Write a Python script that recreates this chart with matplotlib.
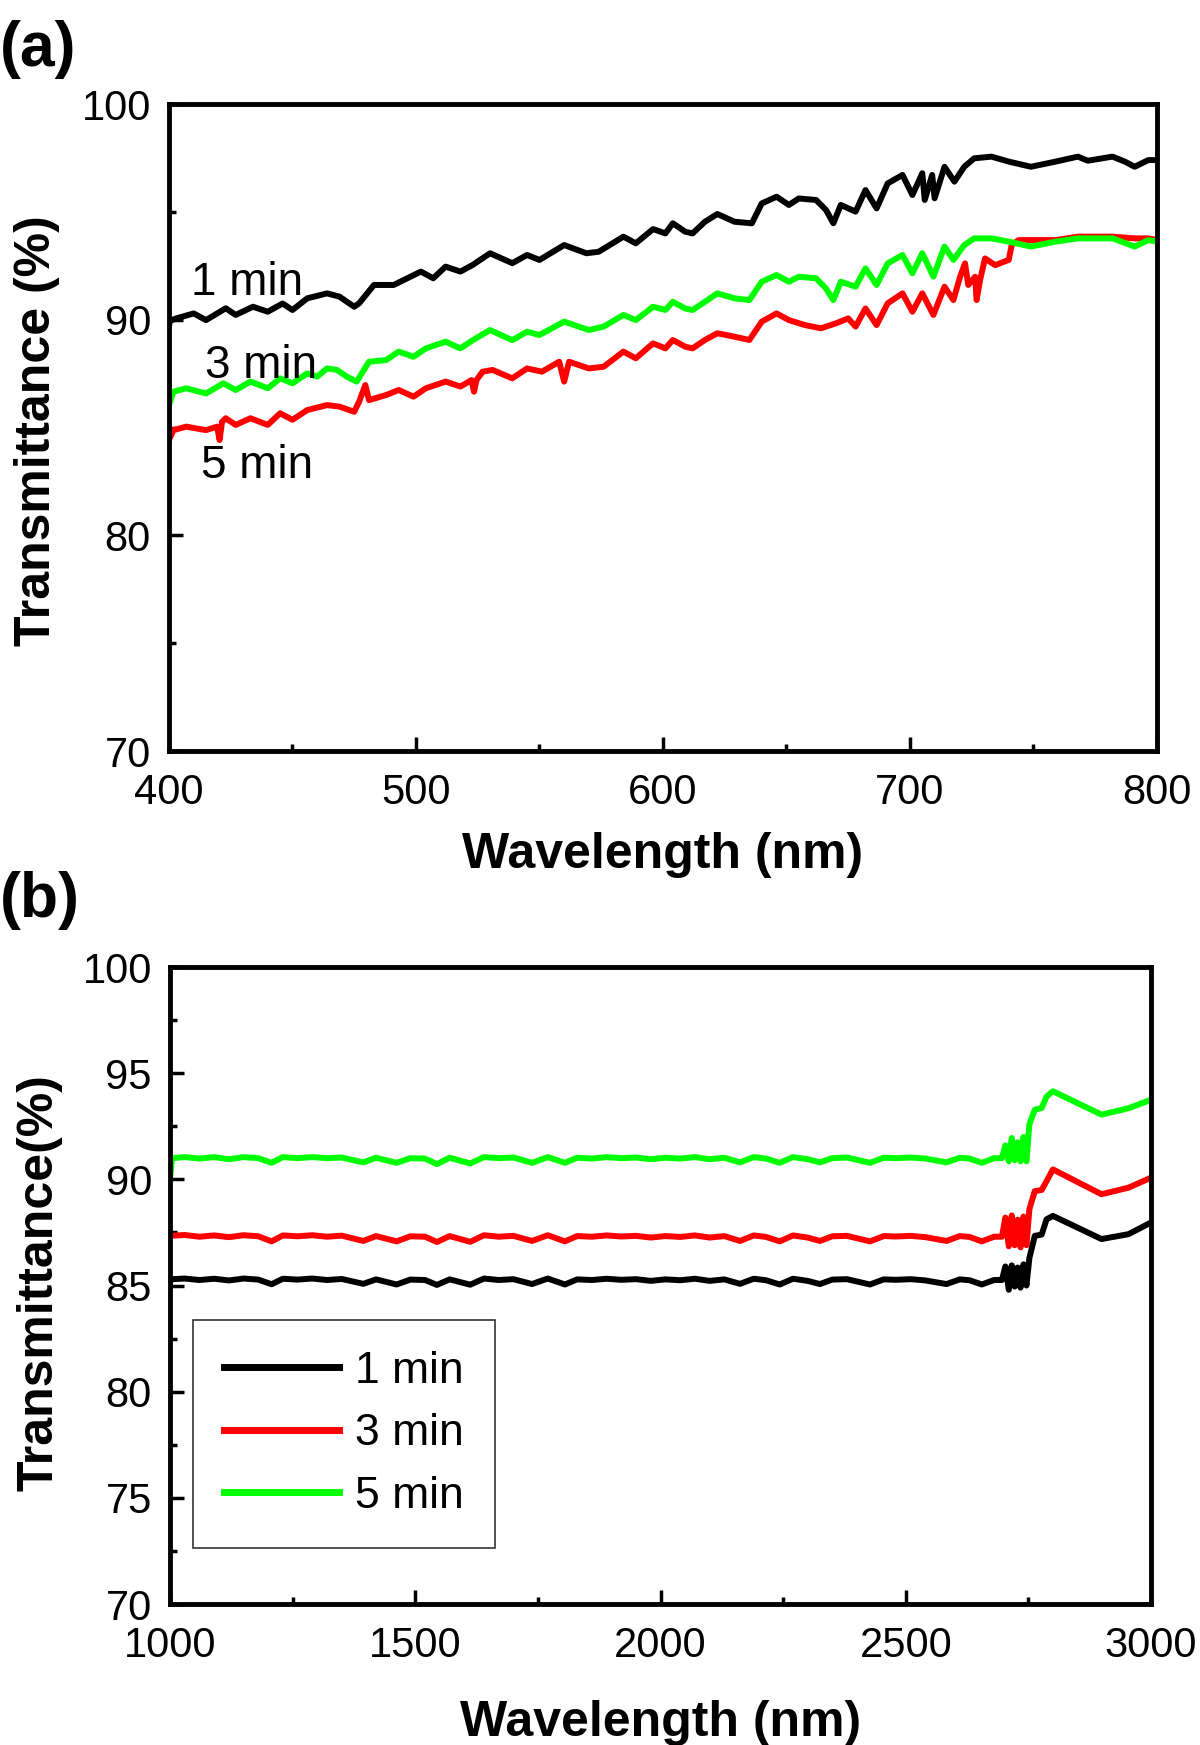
import matplotlib
matplotlib.use("Agg")
import matplotlib.pyplot as plt
from matplotlib.ticker import MultipleLocator

plt.rcParams['font.family'] = ['Liberation Sans', 'DejaVu Sans']

# ---- panel (a): 400-800 nm ----
wl_a_1min = [400, 400.4, 403, 410, 415, 423, 427, 434, 440, 446,
             450, 456, 464, 469, 475, 477, 483, 491, 502, 507,
             512, 518, 523, 530, 539, 545, 550, 560, 569, 574,
             584, 589, 596, 601, 604, 609, 612, 617, 622, 629,
             636, 640, 646, 651, 655, 662, 666, 669, 672, 678,
             682, 686.5, 691, 697, 701, 705, 706, 709, 710, 714,
             718, 722, 726, 733, 740, 749, 759, 768, 772, 782,
             787, 791, 796.5, 800]
t_a_1min = [89.7, 89.95, 90.06, 90.29, 89.98, 90.53, 90.22, 90.60, 90.37, 90.75,
            90.45, 90.99, 91.22, 91.07, 90.60, 90.76, 91.61, 91.61, 92.23, 91.92,
            92.46, 92.23, 92.54, 93.08, 92.62, 93.00, 92.77, 93.46, 93.08, 93.15,
            93.85, 93.54, 94.20, 94.00, 94.47, 94.08, 94.00, 94.54, 94.90, 94.54,
            94.47, 95.39, 95.70, 95.32, 95.62, 95.55, 95.09, 94.47, 95.32, 95.01,
            96.01, 95.16, 96.32, 96.71, 95.78, 96.79, 95.55, 96.71, 95.63, 97.09,
            96.40, 97.09, 97.48, 97.56, 97.33, 97.09, 97.33, 97.56, 97.37, 97.56,
            97.33, 97.09, 97.40, 97.40]

wl_a_3min = [400, 401.8, 407, 415, 419.5, 420.5, 421.5, 423, 427, 433,
             440, 445, 450, 456, 464, 469, 475, 477, 479.5, 481,
             488, 493, 499, 504, 512, 518, 522.5, 523.5, 524.5, 527,
             531, 539, 545, 551, 558, 560, 562, 570, 576, 584,
             589, 596, 601, 604, 609, 612, 617, 622, 629, 635,
             640, 646, 651, 657.5, 664, 670, 675, 678, 682, 686.5,
             691, 697, 701, 705, 709.5, 714, 717.6, 720.3, 722.3, 723.6,
             726.4, 727, 728.4, 730.4, 734.5, 740, 741.2, 744, 759, 768,
             782, 791, 796.5, 800]
t_a_3min = [84.42, 84.88, 85.04, 84.88, 85.04, 84.42, 85.27, 85.43, 85.12, 85.43,
            85.12, 85.66, 85.36, 85.81, 86.04, 85.97, 85.73, 86.20, 86.97, 86.27,
            86.51, 86.74, 86.43, 86.82, 87.13, 86.90, 87.20, 86.66, 87.20, 87.59,
            87.67, 87.28, 87.74, 87.59, 88.05, 87.13, 88.05, 87.74, 87.82, 88.52,
            88.21, 88.90, 88.67, 89.06, 88.75, 88.67, 89.06, 89.37, 89.21, 89.06,
            89.91, 90.29, 89.98, 89.75, 89.60, 89.83, 90.06, 89.68, 90.52, 89.75,
            90.76, 91.22, 90.37, 91.22, 90.22, 91.53, 90.91, 91.99, 92.61, 91.61,
            91.99, 90.91, 91.84, 92.84, 92.53, 92.77, 93.46, 93.69, 93.69, 93.85,
            93.85, 93.77, 93.77, 93.69]

wl_a_5min = [400, 401.8, 407, 415, 422, 427, 433, 440, 445, 450,
             456, 460, 464, 468, 472, 476, 481, 488, 493, 499,
             504, 512, 518, 523, 530, 539, 545, 550, 560, 570,
             576, 584, 589, 596, 601, 604, 609, 612, 617, 622,
             629, 635, 640, 646, 651, 655, 662, 666, 669, 672,
             678, 682, 686.5, 691, 697, 701, 705, 709.5, 714, 717.6,
             722, 726, 733, 740, 749, 759, 768, 782, 791, 796.5,
             800]
t_a_5min = [86.04, 86.66, 86.82, 86.58, 87.05, 86.74, 87.13, 86.82, 87.28, 87.05,
            87.51, 87.36, 87.74, 87.67, 87.36, 87.13, 88.05, 88.13, 88.52, 88.28,
            88.67, 88.98, 88.67, 89.05, 89.52, 89.05, 89.44, 89.29, 89.91, 89.52,
            89.68, 90.22, 89.98, 90.60, 90.45, 90.83, 90.52, 90.45, 90.83, 91.22,
            90.99, 90.91, 91.76, 92.07, 91.76, 91.99, 91.92, 91.45, 90.91, 91.76,
            91.53, 92.38, 91.61, 92.61, 93.00, 92.15, 93.08, 92.00, 93.39, 92.77,
            93.46, 93.77, 93.77, 93.62, 93.39, 93.62, 93.77, 93.77, 93.39, 93.69,
            93.62]

# ---- panel (b): 1000-3000 nm ----
wl_b = [1000, 1004, 1030, 1060, 1090, 1120, 1150, 1180, 1207, 1230,
        1260, 1290, 1320, 1350, 1394, 1420, 1462, 1490, 1520, 1544,
        1570, 1612, 1640, 1670, 1700, 1738, 1770, 1805, 1830, 1860,
        1890, 1920, 1950, 1980, 2010, 2040, 2070, 2100, 2130, 2162,
        2190, 2215, 2243, 2270, 2300, 2325, 2350, 2380, 2427, 2455,
        2480, 2510, 2540, 2583, 2610, 2630, 2655, 2680, 2696, 2703,
        2710, 2716, 2722, 2728, 2734, 2740, 2746, 2752, 2763, 2777,
        2787, 2800, 2899, 2954, 3000]
t_b_1min = [85.20, 85.30, 85.33, 85.26, 85.32, 85.24, 85.33, 85.28, 85.06, 85.32,
            85.28, 85.33, 85.26, 85.31, 85.08, 85.29, 85.05, 85.28, 85.26, 85.03,
            85.29, 85.04, 85.33, 85.26, 85.30, 85.07, 85.33, 85.05, 85.29, 85.26,
            85.32, 85.27, 85.30, 85.22, 85.29, 85.25, 85.32, 85.22, 85.29, 85.08,
            85.32, 85.25, 85.05, 85.32, 85.22, 85.07, 85.28, 85.30, 85.05, 85.29,
            85.27, 85.30, 85.24, 85.07, 85.29, 85.25, 85.05, 85.26, 85.26, 85.90,
            84.80, 85.95, 84.95, 85.85, 84.90, 86.00, 85.00, 86.30, 87.34, 87.40,
            88.12, 88.28, 87.19, 87.42, 87.97]
t_b_3min = [87.35, 87.35, 87.38, 87.30, 87.36, 87.28, 87.37, 87.32, 87.08, 87.36,
            87.32, 87.37, 87.30, 87.35, 87.10, 87.33, 87.08, 87.32, 87.30, 87.05,
            87.33, 87.06, 87.37, 87.30, 87.34, 87.10, 87.37, 87.08, 87.33, 87.30,
            87.36, 87.31, 87.34, 87.26, 87.33, 87.29, 87.36, 87.26, 87.33, 87.10,
            87.36, 87.29, 87.08, 87.36, 87.26, 87.10, 87.32, 87.34, 87.08, 87.33,
            87.31, 87.34, 87.28, 87.10, 87.33, 87.29, 87.08, 87.30, 87.30, 88.20,
            86.85, 88.30, 86.90, 88.10, 86.80, 88.25, 86.90, 88.60, 89.45, 89.50,
            89.92, 90.47, 89.30, 89.61, 90.08]
t_b_5min = [90.00, 91.00, 91.05, 90.98, 91.05, 90.95, 91.05, 91.00, 90.78, 91.05,
            91.00, 91.05, 91.00, 91.03, 90.80, 91.02, 90.78, 91.00, 90.98, 90.72,
            91.02, 90.75, 91.05, 91.00, 91.03, 90.78, 91.05, 90.78, 91.02, 90.98,
            91.05, 91.00, 91.03, 90.95, 91.02, 90.98, 91.05, 90.95, 91.02, 90.80,
            91.05, 90.98, 90.78, 91.05, 90.95, 90.80, 91.00, 91.03, 90.78, 91.02,
            91.00, 91.03, 90.98, 90.80, 91.02, 90.98, 90.78, 91.00, 91.00, 91.60,
            90.85, 91.95, 90.90, 91.75, 90.85, 92.00, 90.85, 92.60, 93.28, 93.36,
            93.90, 94.15, 93.05, 93.35, 93.75]

labels = ['1 min', '3 min', '5 min']
colors = ['#000000', '#ff0000', '#00ff00']

fig = plt.figure(figsize=(12, 17.45), dpi=100)
ax1 = fig.add_axes([0.1408, 0.5696, 0.8233, 0.3708])
ax2 = fig.add_axes([0.1417, 0.0808, 0.8175, 0.3650])

lw = 4.3
ax1.plot(wl_a_1min, t_a_1min, color=colors[0], lw=lw)
ax1.plot(wl_a_3min, t_a_3min, color=colors[1], lw=lw)
ax1.plot(wl_a_5min, t_a_5min, color=colors[2], lw=lw)

ax2.plot(wl_b, t_b_1min, color=colors[0], lw=lw, label=labels[0])
ax2.plot(wl_b, t_b_3min, color=colors[1], lw=lw, label=labels[1])
ax2.plot(wl_b, t_b_5min, color=colors[2], lw=lw, label=labels[2])

ax1.set_xlim(400, 800)
ax1.set_ylim(70, 100)
ax1.xaxis.set_major_locator(MultipleLocator(100))
ax1.xaxis.set_minor_locator(MultipleLocator(50))
ax1.yaxis.set_major_locator(MultipleLocator(10))
ax1.yaxis.set_minor_locator(MultipleLocator(5))

ax2.set_xlim(1000, 3000)
ax2.set_ylim(70, 100)
ax2.xaxis.set_major_locator(MultipleLocator(500))
ax2.xaxis.set_minor_locator(MultipleLocator(250))
ax2.yaxis.set_major_locator(MultipleLocator(5))
ax2.yaxis.set_minor_locator(MultipleLocator(2.5))

for ax in (ax1, ax2):
    for s in ax.spines.values():
        s.set_linewidth(3.5)
    ax.tick_params(which='both', direction='in', top=False, right=False)
    ax.tick_params(which='major', length=10, width=2.5, labelsize=30)
    ax.tick_params(which='minor', length=5, width=2.5)
    ax.tick_params(axis='x', which='major', pad=16)
    ax.tick_params(axis='y', which='major', pad=13)

ax1.set_xlabel('Wavelength (nm)', fontsize=36, fontweight='bold')
ax1.set_ylabel('Transmittance (%)', fontsize=36, fontweight='bold')
ax1.xaxis.set_label_coords(0.5, -0.125)
ax1.yaxis.set_label_coords(-0.110, 0.495)

ax2.set_xlabel('Wavelength (nm)', fontsize=36, fontweight='bold')
ax2.set_ylabel('Transmittance(%)', fontsize=36, fontweight='bold')
ax2.xaxis.set_label_coords(0.5, -0.151)
ax2.yaxis.set_label_coords(-0.110, 0.504)

# curve labels in panel (a)
ax1.text(431.8, 91.15, '1 min', fontsize=33, ha='center', va='baseline')
ax1.text(437.4, 87.30, '3 min', fontsize=33, ha='center', va='baseline')
ax1.text(435.5, 82.66, '5 min', fontsize=33, ha='center', va='baseline')

leg = ax2.legend(loc='upper left', bbox_to_anchor=(0.023, 0.446), borderaxespad=0,
                 fontsize=32, handlelength=2.6, handletextpad=0.35,
                 labelspacing=0.48, borderpad=0.7, fancybox=False)
leg.get_frame().set_edgecolor('black')
leg.get_frame().set_linewidth(1.2)
for h in leg.get_lines():
    h.set_linewidth(5)

fig.text(0.0, 1 - 20 / 1745, '(a)', fontsize=45, fontweight='bold', ha='left', va='top')
fig.text(0.0, 1 - 871 / 1745, '(b)', fontsize=45, fontweight='bold', ha='left', va='top')

fig.savefig('out.png', dpi=100)
